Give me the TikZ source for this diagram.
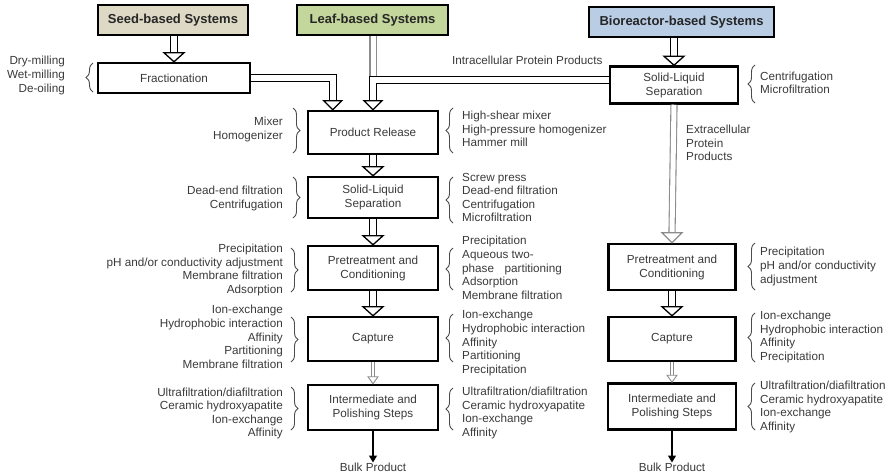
\documentclass[tikz,border=0pt]{standalone}
\usepackage{fontspec}
\setmainfont{Liberation Sans}
\usetikzlibrary{calc,decorations.pathreplacing,arrows.meta}
\definecolor{seedc}{HTML}{DDD9C4}
\definecolor{leafc}{HTML}{C3D69B}
\definecolor{bioc}{HTML}{B9CDE5}
\definecolor{txt}{HTML}{3A3A3A}
\newcommand{\openhead}[4]{%
  \draw[#1] ($(#2)+(-#3,-#4)$) -- (#2) -- ($(#2)+(#3,-#4)$) -- cycle;}
\begin{document}
\begin{tikzpicture}[x=1pt,y=-1pt,
  box/.style={draw=black, line width=2.5pt, fill=white, align=center,
    font=\fontsize{11.7}{14}\selectfont, text=txt, inner sep=0pt},
  topbox/.style={draw=black, line width=2.2pt, font=\bfseries\fontsize{13}{15}\selectfont,
    text=black!85, inner sep=0pt},
  lbl/.style={font=\fontsize{11.7}{13.6}\selectfont, text=txt, inner sep=0pt},
  lL/.style={lbl, align=right, anchor=east},
  lR/.style={lbl, align=left, anchor=west},
  brc/.style={decorate, decoration={brace, amplitude=7pt}, draw=black!70, line width=0.9pt},
  dbl/.style={draw=black, double=white, double distance=5.5pt, line width=1.3pt},
  gdbl/.style={draw=black!45, double=white, double distance=5pt, line width=1.1pt},
  tdbl/.style={draw=black!45, double=white, double distance=2.5pt, line width=0.9pt},
  headb/.style={draw=black, line width=1.3pt, fill=white, line join=miter},
  headg/.style={draw=black!45, line width=1.1pt, fill=white, line join=miter},
  headt/.style={draw=black!45, line width=0.9pt, fill=white, line join=miter},
  solid/.style={draw=black, line width=1.3pt, -{Triangle[length=7pt,width=8pt]}}
]
\useasboundingbox (0,0) rectangle (894,475);

% top boxes
\node[topbox, fill=seedc, minimum width=150, minimum height=30] (seed) at (173,20) {Seed-based Systems};
\node[topbox, fill=leafc, minimum width=151, minimum height=30] (leaf) at (372.5,20) {Leaf-based Systems};
\node[topbox, fill=bioc, minimum width=185, minimum height=30] (bio) at (681.5,22) {Bioreactor-based Systems};

% left column
\node[box, minimum width=152, minimum height=30] (frac) at (174,78) {Fractionation};
\node[box, minimum width=130, minimum height=43] (pr) at (373,132.5) {Product Release};
\node[box, minimum width=130, minimum height=41] (sl) at (373,197.5) {Solid-Liquid\\Separation};
\node[box, minimum width=130, minimum height=44] (pc) at (373,268) {Pretreatment and\\Conditioning};
\node[box, minimum width=130, minimum height=44] (cap) at (373,339) {Capture};
\node[box, minimum width=130, minimum height=45] (ips) at (373,407.5) {Intermediate and\\Polishing Steps};
\node[lbl] (bulk1) at (373,467) {Bulk Product};

% right column
\node[box, minimum width=128, minimum height=37] (bsl) at (674,85) {Solid-Liquid\\Separation};
\node[box, minimum width=127, minimum height=46] (bpc) at (672,267) {Pretreatment and\\Conditioning};
\node[box, minimum width=127, minimum height=44] (bcap) at (672,339) {Capture};
\node[box, minimum width=128, minimum height=46] (bips) at (672,406.5) {Intermediate and\\Polishing Steps};
\node[lbl] (bulk2) at (672,467) {Bulk Product};

% connectors
\draw[dbl] (frac.north |- seed.south) -- ($(frac.north)+(0,-9)$);
\openhead{headb}{frac.north}{10}{9}

\coordinate (a1) at ($(pr.north west)+(26,0)$);
\draw[dbl] (frac.east) -| ($(a1)+(0,-9)$);
\openhead{headb}{a1}{9}{9}

\draw[gdbl] (leaf.south -| pr.north) -- ($(pr.north |- bsl.west)+(0,-5)$);
\draw[dbl] ($(bsl.west)+(0,-5)$) -| ($(pr.north)+(0,-9)$);
\openhead{headb}{pr.north}{9}{9}

\draw[dbl] (bio.south -| bsl.north) -- ($(bsl.north)+(0,-9)$);
\openhead{headb}{bsl.north}{10}{9}

\draw[dbl] (pr.south) -- ($(sl.north)+(0,-9)$);
\openhead{headb}{sl.north}{10}{9}
\draw[dbl] (sl.south) -- ($(pc.north)+(0,-9)$);
\openhead{headb}{pc.north}{10}{9}
\draw[dbl] (pc.south) -- ($(cap.north)+(0,-9)$);
\openhead{headb}{cap.north}{10}{9}
\draw[tdbl] (cap.south) -- ($(ips.north)+(0,-7)$);
\openhead{headt}{ips.north}{5}{7}
\draw[solid] (ips.south) -- (bulk1.north);

\draw[gdbl] (bsl.south) -- ($(bpc.north)+(0,-10)$);
\openhead{headg}{bpc.north}{10}{10}
\draw[dbl] (bpc.south) -- ($(bcap.north)+(0,-9)$);
\openhead{headb}{bcap.north}{10}{9}
\draw[tdbl] (bcap.south) -- ($(bips.north)+(0,-7)$);
\openhead{headt}{bips.north}{5}{7}
\draw[solid] (bips.south) -- (bulk2.north);

% text labels
\node[lbl, anchor=west] (intra) at (452,60) {Intracellular Protein Products};
\node[lR] (extra) at (686,143) {Extracellular\\Protein\\Products};

% left-side labels
\node[lL] (l0) at (65,75.5) {Dry-milling\\Wet-milling\\De-oiling};
\node[lL] (l1) at (283,129.5) {Mixer\\Homogenizer};
\node[lL] (l2) at (283,198.5) {Dead-end filtration\\Centrifugation};
\node[lL] (l3) at (283,270) {Precipitation\\pH and/or conductivity adjustment\\Membrane filtration\\Adsorption};
\node[lL] (l4) at (283,337) {Ion-exchange\\Hydrophobic interaction\\Affinity\\Partitioning\\Membrane filtration};
\node[lL] (l5) at (283,413.5) {Ultrafiltration/diafiltration\\Ceramic hydroxyapatite\\Ion-exchange\\Affinity};

% right-side labels (left column)
\node[lR] (r1) at (462,129) {High-shear mixer\\High-pressure homogenizer\\Hammer mill};
\node[lR] (r2) at (462,197.5) {Screw press\\Dead-end filtration\\Centrifugation\\Microfiltration};
\node[lR] (r3) at (462,268) {Precipitation\\Aqueous two-\\phase\hspace{0.9em}partitioning\\Adsorption\\Membrane filtration};
\node[lR] (r4) at (462,343) {Ion-exchange\\Hydrophobic interaction\\Affinity\\Partitioning\\Precipitation};
\node[lR] (r5) at (462,413) {Ultrafiltration/diafiltration\\Ceramic hydroxyapatite\\Ion-exchange\\Affinity};

% right-side labels (right column)
\node[lR] (s1) at (760,83) {Centrifugation\\Microfiltration};
\node[lR] (s2) at (760,266.5) {Precipitation\\pH and/or conductivity\\adjustment};
\node[lR] (s3) at (760,337) {Ion-exchange\\Hydrophobic interaction\\Affinity\\Precipitation};
\node[lR] (s4) at (760,407) {Ultrafiltration/diafiltration\\Ceramic hydroxyapatite\\Ion-exchange\\Affinity};

% braces
\draw[brc] (93,92) -- (93,63);
\draw[brc] (293,108) -- (293,153);
\draw[brc] (453,153) -- (453,108);
\draw[brc] (293,177) -- (293,218);
\draw[brc] (453,223) -- (453,177);
\draw[brc] (291,248) -- (291,292);
\draw[brc] (453,290) -- (453,248);
\draw[brc] (291,317) -- (291,362);
\draw[brc] (453,362) -- (453,314);
\draw[brc] (291,387) -- (291,430);
\draw[brc] (453,430) -- (453,388);
\draw[brc] (755,103) -- (755,65);
\draw[brc] (755,290) -- (755,243);
\draw[brc] (755,362) -- (755,313);
\draw[brc] (755,430) -- (755,383);
\end{tikzpicture}
\end{document}
